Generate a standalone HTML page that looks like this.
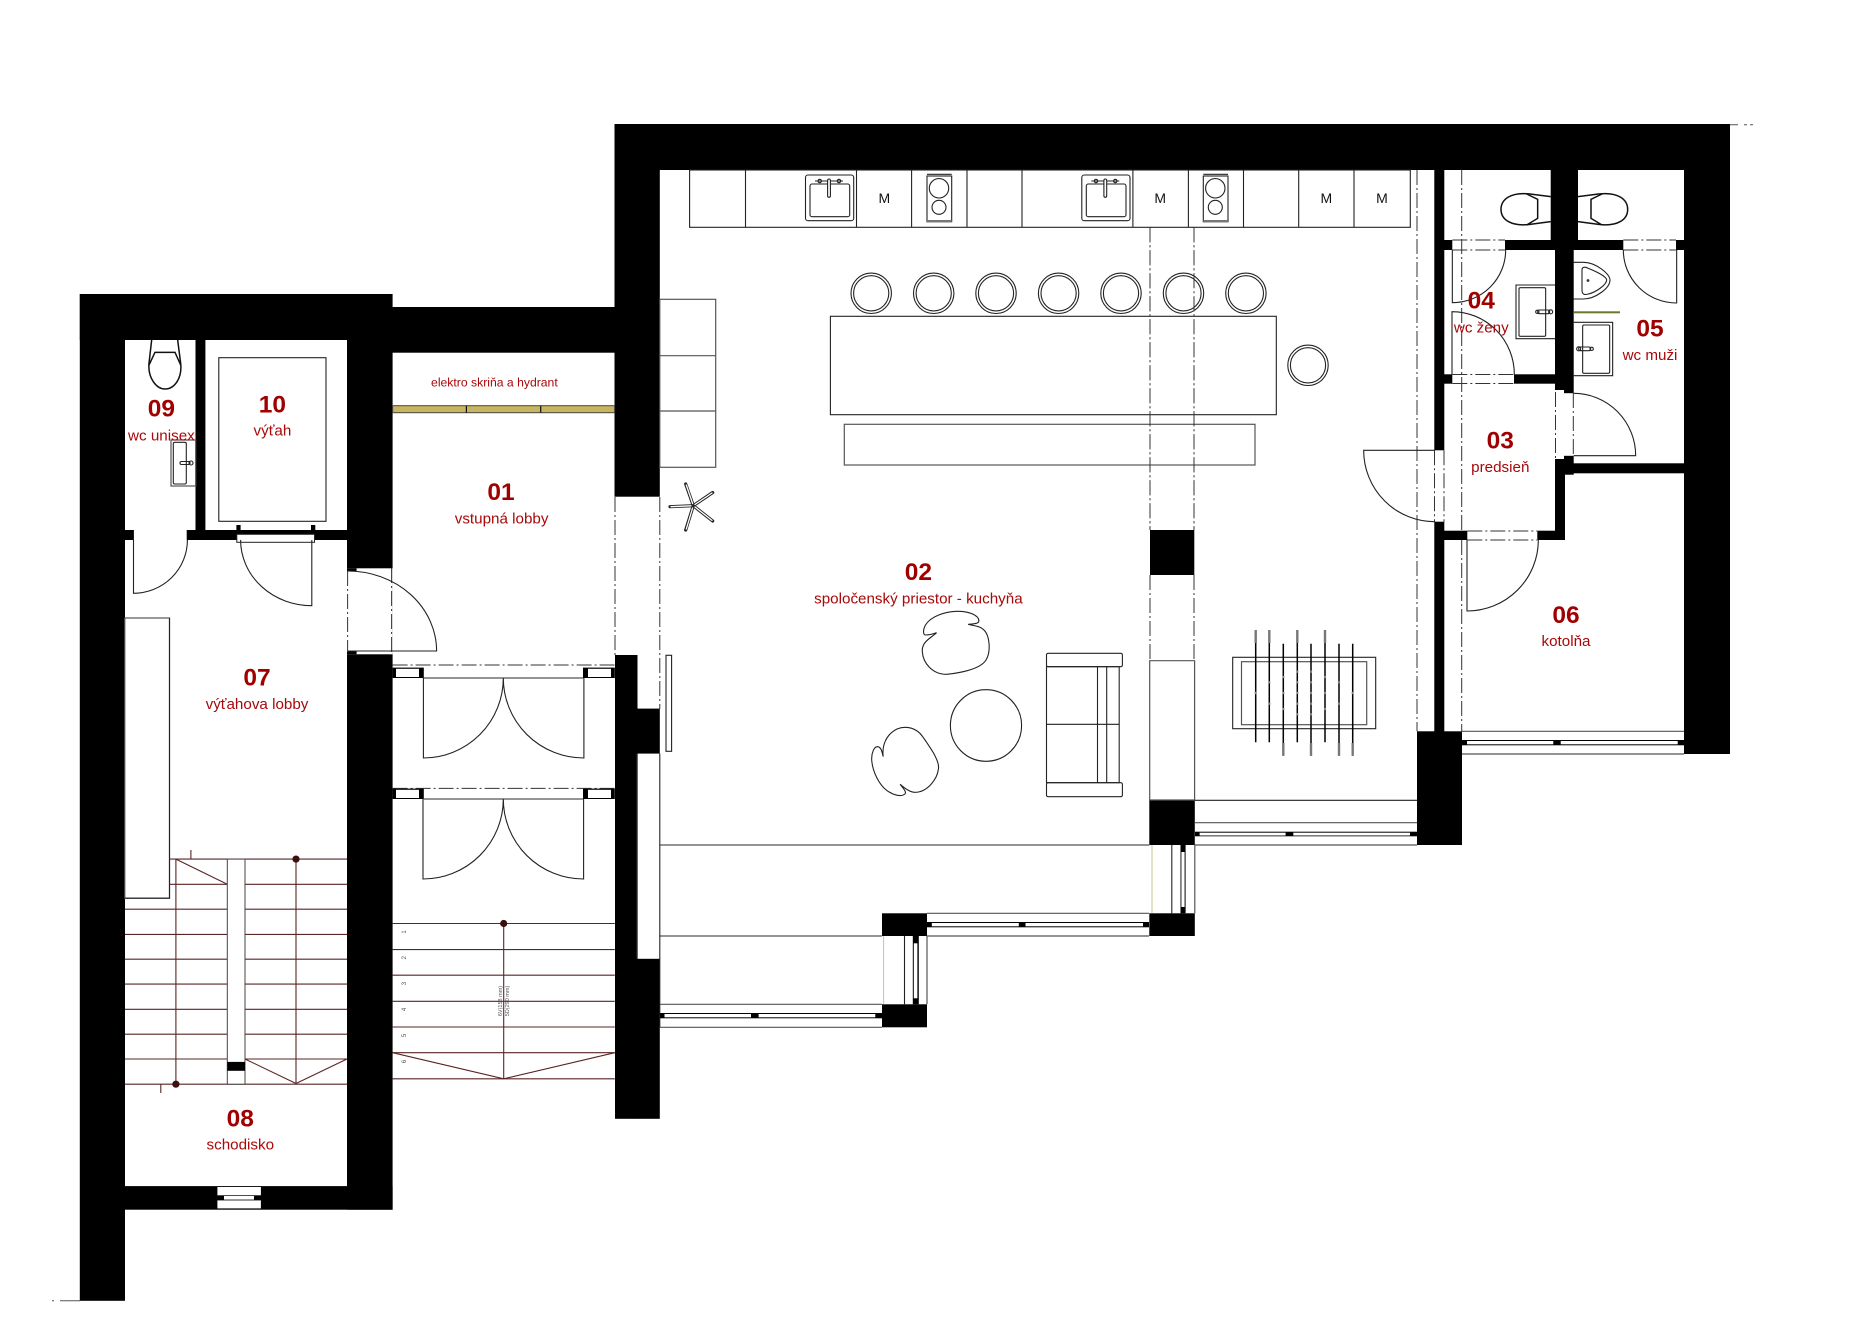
<!DOCTYPE html>
<html lang="sk">
<head>
<meta charset="utf-8">
<title>Pôdorys</title>
<style>
html,body{margin:0;padding:0;background:#fff;width:1872px;height:1324px;overflow:hidden}
svg{display:block}
text{font-family:"Liberation Sans",Arial,sans-serif;text-anchor:middle}
.n{font-size:24.5px;font-weight:bold;fill:#a00000}
.l{font-size:15.2px;fill:#a80808}
.m{font-size:14px;fill:#111}
.ln{fill:none;stroke:#222;stroke-width:1.1}
.g{fill:none;stroke:#555;stroke-width:1.2}
.dd{fill:none;stroke:#333;stroke-width:1;stroke-dasharray:15 3 2 3}
.st{fill:none;stroke:#5a2525;stroke-width:1.1}
.z *{vector-effect:non-scaling-stroke}
.t *{stroke-width:1.5;stroke:#111}
</style>
</head>
<body>
<svg width="1872" height="1324" viewBox="0 0 1872 1324" xmlns="http://www.w3.org/2000/svg">
<defs>
  <g id="stool"><circle r="20.2" fill="#fff" stroke="#222" stroke-width="1.1"/><circle r="17.6" fill="none" stroke="#222" stroke-width="1.1"/></g>
  <g id="sink" class="ln">
    <rect x="805.5" y="175" width="48.2" height="45.7" rx="2.5"/>
    <rect x="810" y="184" width="39.7" height="32.7" rx="2"/>
    <path d="M815 181H843"/>
    <circle cx="819.7" cy="181" r="1.7"/><circle cx="839" cy="181" r="1.7"/>
    <rect x="827.6" y="179" width="2.8" height="18.3" rx="1.4" fill="#fff"/>
  </g>
  <g id="hob">
    <rect x="927" y="176" width="24.7" height="45.7" class="ln"/>
    <path d="M927 174.3H951.7" class="ln"/>
    <rect x="927" y="220" width="24.7" height="2.4" fill="#777"/>
    <circle cx="939" cy="188.3" r="9.7" class="ln"/>
    <circle cx="939" cy="207.3" r="7" class="ln"/>
  </g>
</defs>

<rect width="1872" height="1324" fill="#fff"/>

<!-- small artefacts -->
<path d="M1730 124.7H1738M1744 124.7H1747M1750 124.7H1753M52 1300.8H54M60 1300.8H80" stroke="#555" stroke-width="1" fill="none"/>

<!-- walls -->
<g fill="#000">
  <rect x="79.8" y="294" width="312.8" height="46"/>
  <rect x="79.8" y="294" width="45.2" height="1006.8"/>
  <rect x="195.5" y="338" width="9.9" height="194"/>
  <rect x="120" y="530" width="230" height="10"/>
  <rect x="347" y="338" width="45.6" height="871.7"/>
  <rect x="120" y="1186.1" width="272.6" height="23.6"/>
  <rect x="390" y="307" width="226" height="45.7"/>
  <rect x="614.5" y="124" width="1115.5" height="46"/>
  <rect x="614.5" y="124" width="45.3" height="372.7"/>
  <rect x="615" y="655" width="22.5" height="463.8"/>
  <rect x="637" y="708.6" width="22.8" height="45"/>
  <rect x="637" y="958.8" width="22.8" height="160"/>
  <rect x="1684" y="124" width="46" height="630"/>
  <rect x="1434.3" y="168" width="10" height="565"/>
  <rect x="1550.7" y="168" width="27.3" height="74"/>
  <rect x="1555" y="240" width="18.7" height="153.3"/>
  <rect x="1442" y="240" width="244" height="10"/>
  <rect x="1442" y="374.3" width="115" height="9.4"/>
  <rect x="1555" y="455.7" width="18.7" height="19"/>
  <rect x="1563" y="463.3" width="123" height="10"/>
  <rect x="1555" y="459" width="10" height="81"/>
  <rect x="1442" y="530.7" width="123" height="9.3"/>
  <rect x="1417" y="731.3" width="45" height="113.7"/>
  <rect x="1150" y="530" width="44.3" height="45"/>
  <rect x="1149.3" y="800" width="45.5" height="45"/>
  <rect x="1149.3" y="913.3" width="45.5" height="22.7"/>
  <rect x="882" y="913.3" width="45" height="22.7"/>
  <rect x="882" y="1004.3" width="45" height="23"/>
</g>

<!-- wall openings -->
<g fill="#fff">
  <rect x="133.9" y="529" width="52.8" height="12"/>
  <rect x="236.8" y="534.3" width="77.7" height="8" stroke="#222" stroke-width="1"/>
  <rect x="347" y="568.3" width="45.6" height="86"/>
  <rect x="347" y="568.3" width="9.6" height="2.7" fill="#000"/>
  <rect x="347" y="651.3" width="9.6" height="3" fill="#000"/>
  <rect x="217.4" y="1187" width="43.5" height="8.3"/>
  <rect x="217.4" y="1200.4" width="43.5" height="8"/>
  <rect x="224" y="1196" width="30" height="3.6"/>
  <rect x="1452.3" y="239" width="52.7" height="12"/>
  <rect x="1623.3" y="239" width="52.7" height="12"/>
  <rect x="1452.3" y="373.3" width="61.7" height="11.4"/>
  <rect x="1555" y="390" width="9" height="69"/>
  <rect x="1564" y="393.3" width="9.7" height="62.4"/>
  <rect x="1467.3" y="529.7" width="70" height="11.3"/>
  <rect x="1433.3" y="450.3" width="12" height="71.4"/>
</g>

<!-- elevator door jambs -->
<g fill="#000">
  <rect x="236.4" y="525" width="4.2" height="8"/>
  <rect x="311" y="525" width="4.3" height="8"/>
</g>

<!-- dash-dot lines -->
<g class="dd">
  <path d="M1417 170V731.3"/>
  <path d="M1461.7 170V530.7M1461.7 540V731.3"/>
  <path d="M1150 227.3V530M1150 575V660"/>
  <path d="M1194 227.3V530M1194 575V660"/>
  <path d="M615 497V655M659.8 497V709"/>
  <path d="M347.6 571V651M391.6 568V654"/>
  <path d="M392.6 665H614.5M392.6 788.4H614.5"/>
  <path d="M1452.3 240H1505M1452.3 250H1505M1623.3 240H1676M1623.3 250H1676"/>
  <path d="M1452.3 374.5H1514M1452.3 383.5H1514"/>
  <path d="M1555.5 392V458M1573.3 393V456"/>
  <path d="M1467.3 531H1537.3M1467.3 540H1537.3"/>
  <path d="M1434.5 450.3V521.7M1444 450.3V521.7"/>
  <path d="M238 538H314" stroke="#fff"/>
</g>

<!-- room 01 -->
<rect x="392.6" y="405.7" width="222" height="7" fill="#c8b560" stroke="#444" stroke-width="1"/>
<path d="M466.4 405.7V412.7M540.7 405.7V412.7" stroke="#111" stroke-width="1.2"/>

<!-- jambs lobby doors -->
<g>
  <rect x="392.6" y="667.6" width="31.2" height="10.4" fill="#000"/>
  <rect x="396" y="668.8" width="23" height="8.2" fill="#fff"/>
  <rect x="583" y="667.6" width="31.8" height="10.4" fill="#000"/>
  <rect x="588" y="668.8" width="23" height="8.2" fill="#fff"/>
  <rect x="392.6" y="788.6" width="31.2" height="10.4" fill="#000"/>
  <rect x="396" y="789.8" width="23" height="8.2" fill="#fff"/>
  <rect x="583" y="788.6" width="31.8" height="10.4" fill="#000"/>
  <rect x="588" y="789.8" width="23" height="8.2" fill="#fff"/>
</g>
<path class="g" d="M423.8 678H583M423.8 799H583"/>

<!-- doors -->
<g class="ln">
  <path d="M423.4 678V758A80 80 0 0 0 503.3 678A80.6 80 0 0 0 583.9 758V678"/>
  <path d="M423 799V879A80.3 80 0 0 0 503.3 799A80.3 80 0 0 0 583.6 879V799"/>
  <path d="M133.5 540V593.3A54 53.3 0 0 0 187.4 540"/>
  <path d="M311.8 540V605.7A71.2 65.7 0 0 1 240.6 540"/>
  <path d="M347.8 571A88.8 80 0 0 1 436.6 651H347.8"/>
</g>
<g class="ln z" transform="translate(1240 110) scale(.33333)">
  <path d="M637 420V578A160 158 0 0 0 797 420"/>
  <path d="M636 793V605A187 188 0 0 1 823 793"/>
  <path d="M1310 420V579A160 159 0 0 1 1150 420"/>
  <path d="M1001 850A186 187 0 0 1 1187 1037H1001"/>
  <path d="M584 1021H371A213 214 0 0 0 584 1235"/>
  <path d="M681 1290V1503A214 213 0 0 0 895 1290"/>
</g>

<!-- room 09 + 10 fixtures -->
<rect x="218.8" y="357.7" width="107.2" height="163.6" class="ln" stroke-width="1.3"/>
<g class="ln z t" transform="translate(125 335) scale(.33333)">
  <path d="M80 15L72 85C68 130 95 162 120 162C148 162 172 130 167 85L158 15"/>
  <path d="M72 90L90 52H150L167 90"/>
</g>
<rect x="171" y="440" width="24.7" height="46" class="g"/>
<rect x="173.3" y="442.3" width="13" height="41.7" rx="1.5" class="ln"/>
<rect x="180" y="461.5" width="10" height="3" rx="1.5" class="ln"/>
<circle cx="191" cy="463" r="2" class="ln"/>

<!-- lobby 07 cabinet -->
<rect x="124.8" y="618" width="44.7" height="280.2" fill="#fff" class="g"/>
<path d="M124.8 898.2H169.5V618" class="ln"/>

<!-- left stairs -->
<g class="st">
  <path d="M169.5 859.1H347"/>
  <path d="M169.5 884.3H347"/>
  <path d="M124.8 909.2H347"/>
  <path d="M124.8 934.4H347"/>
  <path d="M124.8 959.2H347"/>
  <path d="M124.8 984.1H347"/>
  <path d="M124.8 1009.3H347"/>
  <path d="M124.8 1034.2H347"/>
  <path d="M124.8 1059H347"/>
  <path d="M124.8 1084.2H347"/>
  <path d="M175.9 859.1V1084.2M296 859.1V1083.5"/>
  <path d="M175.9 859.1L227.3 884.3M245 1059L296 1083.5L347 1059"/>
  <path d="M190.9 850V859.1M160.8 1084.2V1093"/>
</g>
<rect x="227.3" y="859.1" width="17.7" height="225.1" fill="#fff" stroke="#444" stroke-width="1"/>
<rect x="227.3" y="1061.9" width="17.7" height="8.9" fill="#000"/>
<circle cx="296" cy="859.1" r="3.6" fill="#3d0f0f"/>
<circle cx="175.9" cy="1084.2" r="3.6" fill="#3d0f0f"/>

<!-- right stairs -->
<g class="st">
  <path d="M392.6 923.5H614.8M392.6 949.6H614.8M392.6 975.2H614.8M392.6 1001.3H614.8M392.6 1027H614.8M392.6 1052.7H614.8M392.6 1078.8H614.8"/>
  <path d="M503.7 923.5V1078.8"/>
  <path d="M392.6 1052.7L503.7 1078.8L614.8 1052.7"/>
</g>
<circle cx="503.7" cy="923.5" r="3.6" fill="#3d0f0f"/>
<g font-size="6" fill="#555">
  <text transform="translate(406 932) rotate(-90)">1</text>
  <text transform="translate(406 957.7) rotate(-90)">2</text>
  <text transform="translate(406 983.6) rotate(-90)">3</text>
  <text transform="translate(406 1009.4) rotate(-90)">4</text>
  <text transform="translate(406 1035.5) rotate(-90)">5</text>
  <text transform="translate(406 1061.5) rotate(-90)">6</text>
  <text transform="translate(502 1001) rotate(-90)" style="font-size:5.5px">6V(158 mm)</text>
  <text transform="translate(509 1001) rotate(-90)" style="font-size:5.5px">5D(290 mm)</text>
</g>

<!-- kitchen counter -->
<rect x="689.6" y="170" width="720.7" height="57.3" class="ln" fill="#fff"/>
<path class="ln" d="M745.5 170V227.3M856.5 170V227.3M911.6 170V227.3M967 170V227.3M1022 170V227.3M1132.9 170V227.3M1188.4 170V227.3M1243.5 170V227.3M1298.7 170V227.3M1354 170V227.3"/>
<use href="#sink"/>
<use href="#sink" x="276.3"/>
<use href="#hob"/>
<use href="#hob" x="276.3"/>
<text class="m" x="884.3" y="203">M</text>
<text class="m" x="1160.2" y="203">M</text>
<text class="m" x="1326.3" y="203">M</text>
<text class="m" x="1382" y="203">M</text>

<!-- shoe rack -->
<rect x="659.8" y="299.3" width="55.9" height="168" class="g" fill="#fff"/>
<path class="g" d="M659.8 355.7H715.7M659.8 411H715.7"/>

<!-- island and bar -->
<rect x="830.4" y="316.3" width="445.9" height="98.4" class="ln"/>
<rect x="844.3" y="424.3" width="410.7" height="40.7" class="g"/>
<use href="#stool" x="871.2" y="293.3"/>
<use href="#stool" x="933.7" y="293.3"/>
<use href="#stool" x="996" y="293.3"/>
<use href="#stool" x="1058.6" y="293.3"/>
<use href="#stool" x="1121" y="293.3"/>
<use href="#stool" x="1183.5" y="293.3"/>
<use href="#stool" x="1245.9" y="293.3"/>
<use href="#stool" x="1308" y="365.3"/>
<path class="dd" d="M1150 227.3V530M1194 227.3V530"/>

<!-- coat stand -->
<g stroke="#222" stroke-width="3.2" stroke-linecap="round" fill="none">
  <path d="M693.3 505.7L670 506.7M693.3 505.7L685.7 484M693.3 505.7L712.7 492.5M693.3 505.7L712.7 521M693.3 505.7L685.7 530"/>
</g>
<g stroke="#fff" stroke-width="1.3" stroke-linecap="round" fill="none">
  <path d="M691 505.8L671 506.7M692.6 503.5L686.3 485M695 504.5L712 493M695 507L712 520.4M692.6 508L686.3 529"/>
</g>

<!-- thin rect by glazing -->
<rect x="666" y="655.3" width="5.6" height="96" class="ln" fill="#fff"/>

<!-- lounge furniture -->
<g class="ln z" transform="translate(640 540) scale(.3954 .33333)">
  <path d="M750 278C735 295 712 305 714 335C716 370 740 403 775 403C800 400 860 390 875 360C888 335 885 285 868 268C860 258 845 258 830 253C840 252 857 252 857 243C857 225 830 213 800 214C770 215 735 230 722 255C715 270 716 285 722 285C730 285 742 282 750 278Z"/>
  <path d="M615 650C612 620 620 585 650 567C675 555 700 565 715 590C735 625 757 660 755 685C752 720 725 757 695 757C680 757 665 740 658 733C665 745 675 755 670 762C660 772 640 765 625 752C605 735 588 695 586 660C585 640 592 620 600 620C610 620 612 635 615 650Z"/>
</g>
<ellipse cx="986" cy="725.5" rx="35.6" ry="35.8" class="ln"/>
<g class="ln">
  <rect x="1046.5" y="666.7" width="72.7" height="116"/>
  <rect x="1046.5" y="653.3" width="75.9" height="13.4" rx="1.6"/>
  <rect x="1046.5" y="782.7" width="75.9" height="14" rx="1.6"/>
  <path d="M1097.5 666.7V782.7M1106.7 666.7V782.7M1046.5 724.3H1119.2"/>
</g>

<!-- foosball -->
<rect x="1232.7" y="657.3" width="143" height="71.4" class="ln" stroke-width="1.2"/>
<rect x="1241.5" y="661.7" width="125.2" height="63" class="g" stroke-width="1.4"/>
<g stroke="#000" stroke-width="1.5" fill="none">
  <path d="M1255.7 630V742.3M1269.3 630V742.3M1283.3 643.7V755.7M1297.3 630V742.3M1311 643.7V755.7M1325 630V742.3M1339 643.7V755.7M1352.7 643.7V755.7"/>
</g>
<g stroke="#777" stroke-width="2.4" fill="none">
  <path d="M1255.7 630V643M1269.3 630V643M1297.3 630V643M1325 630V643M1283.3 743V755.7M1311 743V755.7M1339 743V755.7M1352.7 743V755.7"/>
</g>
<g fill="#888">
  <circle cx="1255.7" cy="693" r="1.2"/>
  <circle cx="1269.3" cy="682.3" r="1.2"/><circle cx="1269.3" cy="703.7" r="1.2"/>
  <circle cx="1283.3" cy="677" r="1.2"/><circle cx="1283.3" cy="693" r="1.2"/><circle cx="1283.3" cy="709" r="1.2"/>
  <circle cx="1297.3" cy="671.7" r="1.2"/><circle cx="1297.3" cy="682.3" r="1.2"/><circle cx="1297.3" cy="693" r="1.2"/><circle cx="1297.3" cy="703.7" r="1.2"/><circle cx="1297.3" cy="714.3" r="1.2"/>
  <circle cx="1311" cy="671.7" r="1.2"/><circle cx="1311" cy="682.3" r="1.2"/><circle cx="1311" cy="693" r="1.2"/><circle cx="1311" cy="703.7" r="1.2"/><circle cx="1311" cy="714.3" r="1.2"/>
  <circle cx="1325" cy="677" r="1.2"/><circle cx="1325" cy="693" r="1.2"/><circle cx="1325" cy="709" r="1.2"/>
  <circle cx="1339" cy="682.3" r="1.2"/><circle cx="1339" cy="703.7" r="1.2"/>
  <circle cx="1352.7" cy="693" r="1.2"/>
</g>

<!-- column and lines, south part -->
<path class="g" d="M1149.7 660.7H1194.6V800H1149.7Z"/>
<path class="ln" d="M1194.8 800.3H1417"/>
<path class="g" d="M659.8 845H1149.3M659.8 936H882M637.3 753.6V958.8"/>
<path class="ln" d="M659.8 753.6V1027.3"/>

<!-- windows horizontal -->
<g>
  <path class="g" d="M660 1004.3H882M660 1027.3H882"/>
  <rect x="660" y="1013" width="222" height="5.3" fill="#000"/>
  <rect x="664.5" y="1014" width="86.5" height="3.3" fill="#fff"/>
  <rect x="758.6" y="1014" width="116.7" height="3.3" fill="#fff"/>

  <path class="g" d="M927 913.3H1149M927 936H1149"/>
  <rect x="927" y="922" width="222" height="5.3" fill="#000"/>
  <rect x="931.8" y="923" width="87" height="3.3" fill="#fff"/>
  <rect x="1025.5" y="923" width="117.5" height="3.3" fill="#fff"/>

  <path class="g" d="M1195 822.7H1417M1195 845H1417"/>
  <rect x="1195" y="831.7" width="222" height="4.6" fill="#000"/>
  <rect x="1199.6" y="832.7" width="86" height="2.8" fill="#fff"/>
  <rect x="1293.3" y="832.7" width="116.7" height="2.8" fill="#fff"/>

  <path class="g" d="M1462 731.3H1684M1462 754H1684"/>
  <rect x="1462" y="740" width="222" height="5.3" fill="#000"/>
  <rect x="1467" y="741" width="86.3" height="3.3" fill="#fff"/>
  <rect x="1560.7" y="741" width="117" height="3.3" fill="#fff"/>
</g>

<!-- windows vertical -->
<g>
  <path stroke="#c8c490" stroke-width="1" d="M883.6 936V1004.3" fill="none"/>
  <path class="ln" d="M904.5 936V1004.3"/>
  <rect x="912.8" y="936" width="6" height="68.3" fill="#000"/>
  <rect x="913.8" y="943.3" width="3.6" height="55" fill="#fff"/>
  <path class="g" d="M927 936V1004.3"/>
  <path stroke="#c8c490" stroke-width="1" d="M1152 845V913.3" fill="none"/>
  <path class="ln" d="M1171.8 845V913.3"/>
  <rect x="1180.5" y="845" width="5.1" height="68.3" fill="#000"/>
  <rect x="1181.4" y="852" width="3.2" height="55" fill="#fff"/>
  <path class="g" d="M1194.8 845V913.3"/>
</g>

<!-- WC fixtures -->
<g class="ln z t" transform="translate(1240 110) scale(.33333)">
  <path d="M932 260L870 252C810 245 783 270 783 298C783 330 815 350 870 343L932 335"/>
  <path d="M860 252L893 268V325L860 345"/>
  <path d="M1014 260L1076 252C1136 245 1163 270 1163 298C1163 330 1131 350 1076 343L1014 335"/>
  <path d="M1086 252L1053 268V325L1086 345"/>
</g>
<g class="ln z" transform="translate(1240 110) scale(.33333)">
  <path d="M945 525H828V686H945"/>
  <rect x="837" y="533" width="80" height="146" rx="4"/>
  <rect x="893" y="600" width="36" height="11" rx="5"/>
  <circle cx="892" cy="605.5" r="5"/><circle cx="932" cy="605.5" r="6"/>
  <path d="M1001 637H1118V797H1001"/>
  <rect x="1028" y="645" width="81" height="145" rx="4"/>
  <rect x="1016" y="711" width="36" height="11" rx="5"/>
  <circle cx="1016" cy="716.5" r="6"/><circle cx="1055" cy="716.5" r="5"/>
</g>
<g class="ln z" transform="translate(1520 250) scale(.33333)">
  <path d="M160 37H190C225 37 270 70 270 90C270 115 225 147 190 147H160"/>
  <path d="M186 60C186 50 195 50 205 55C230 65 260 80 260 90C260 105 225 128 205 132C195 135 186 135 186 120Z"/>
</g>
<circle cx="1588" cy="280.5" r="1.4" fill="#333"/>
<rect x="1573.3" y="311.3" width="46.7" height="2" fill="#6b7a2a"/>

<!-- labels -->
<text class="n" x="501" y="500">01</text>
<text class="l" x="501.6" y="523.6">vstupná lobby</text>
<text style="font-size:12.2px;fill:#a80808" x="494.4" y="386.3">elektro skriňa a hydrant</text>
<text class="n" x="918.4" y="580">02</text>
<text class="l" x="918.4" y="603.6">spoločenský priestor - kuchyňa</text>
<text class="n" x="1500.3" y="448.6">03</text>
<text class="l" x="1500.3" y="472.1">predsieň</text>
<text class="n" x="1481.3" y="308.3">04</text>
<text class="l" x="1481.3" y="332.3">wc ženy</text>
<text class="n" x="1650" y="336.3">05</text>
<text class="l" x="1650" y="359.8">wc muži</text>
<text class="n" x="1566" y="623">06</text>
<text class="l" x="1566" y="646">kotolňa</text>
<text class="n" x="257" y="685.4">07</text>
<text class="l" x="257" y="709">výťahova lobby</text>
<text class="n" x="240.3" y="1126.6">08</text>
<text class="l" x="240.3" y="1149.6">schodisko</text>
<text class="n" x="161.4" y="416.6">09</text>
<text class="l" x="161.4" y="440.6">wc unisex</text>
<text class="n" x="272.4" y="412.6">10</text>
<text class="l" x="272.4" y="435.5">výťah</text>
</svg>
</body>
</html>
